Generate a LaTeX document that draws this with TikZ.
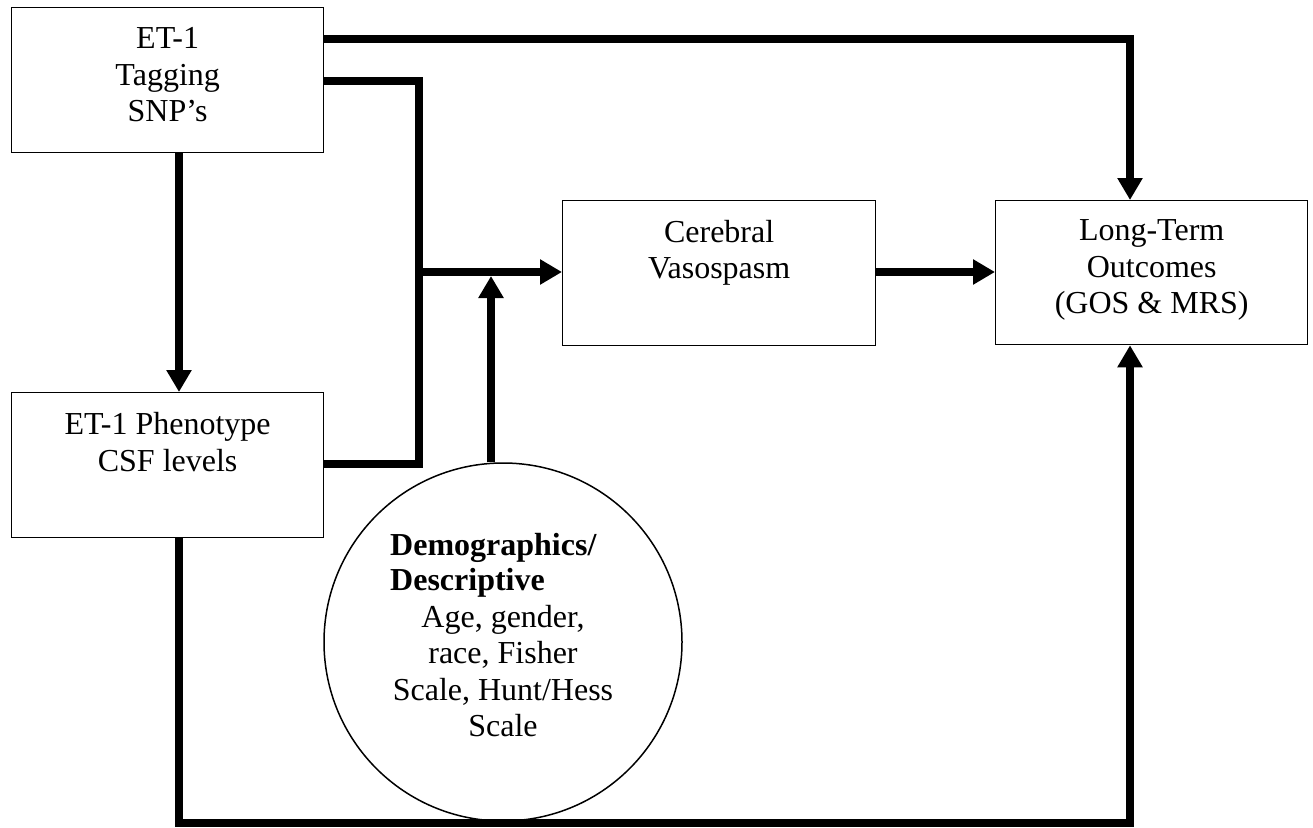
\documentclass[tikz,border=0pt]{standalone}
\usepackage{fontspec}
\setmainfont{Liberation Serif}
\usetikzlibrary{arrows.meta}
\begin{document}
\begin{tikzpicture}[x=1pt,y=-1pt,
  box/.style={draw, line width=1.3pt, minimum height=145pt, anchor=north west, inner sep=0pt},
  circ/.style={draw, circle, line width=1.5pt, minimum size=358pt, inner sep=0pt},
  txt/.style={font=\fontsize{32}{36.5}\selectfont, align=center, inner sep=0pt, anchor=north},
  conn/.style={line width=7.5pt, line join=miter},
  arr/.style={conn, -{Triangle[width=24pt,length=22pt]}}]
\useasboundingbox (0,0) rectangle (1313,827);
% boxes
\node[box, minimum width=312pt] (tag) at (11,7) {};
\node[box, minimum width=312pt] (phen) at (11,392) {};
\node[box, minimum width=313pt] (cer) at (562,200) {};
\node[box, minimum width=312pt, minimum height=144pt] (out) at (995,200) {};
\node[circ] (demo) at (503,642) {};
% texts
\node[txt] (tagT) at ([yshift=-20.5pt]tag.north) {ET-1\\Tagging\\SNP's};
\node[txt] (phenT) at ([yshift=-20.5pt]phen.north) {ET-1 Phenotype\\CSF levels};
\node[txt] (cerT) at ([yshift=-20pt]cer.north) {Cerebral\\Vasospasm};
\node[txt] (outT) at ([yshift=-19.5pt]out.north) {Long-Term\\Outcomes\\(GOS \& MRS)};
\node[txt, anchor=north west, align=left, font=\fontsize{32}{35}\selectfont\bfseries] (demoH) at (390,533) {Demographics/\\Descriptive};
\node[txt] (demoB) at (503,605) {Age, gender,\\race, Fisher\\Scale, Hunt/Hess\\Scale};
% routing coordinates
\coordinate (k1) at (1130,39);
\coordinate (k2) at (179,823);
\coordinate (j1) at (419,81);
\coordinate (j2) at (419,464);
\coordinate (j3) at (419,272);
\coordinate (k5) at (491,276);
\coordinate (k6) at (1130,823);
% connectors
\draw[arr] (tag.east |- k1) -- (k1) -- (k1 |- out.north);
\draw[arr] (tag.south -| k2) -- (phen.north -| k2);
\draw[conn] (tag.east |- j1) -- (j1) -- (j2) -- (phen.east |- j2);
\draw[arr] (j3) -- (cer.west |- j3);
\draw[arr] (demo.north -| k5) -- (k5);
\draw[arr] (cer.east |- j3) -- (out.west |- j3);
\draw[arr] (phen.south -| k2) -- (k2) -- (k6) -- (k6 |- out.south);
\end{tikzpicture}
\end{document}
